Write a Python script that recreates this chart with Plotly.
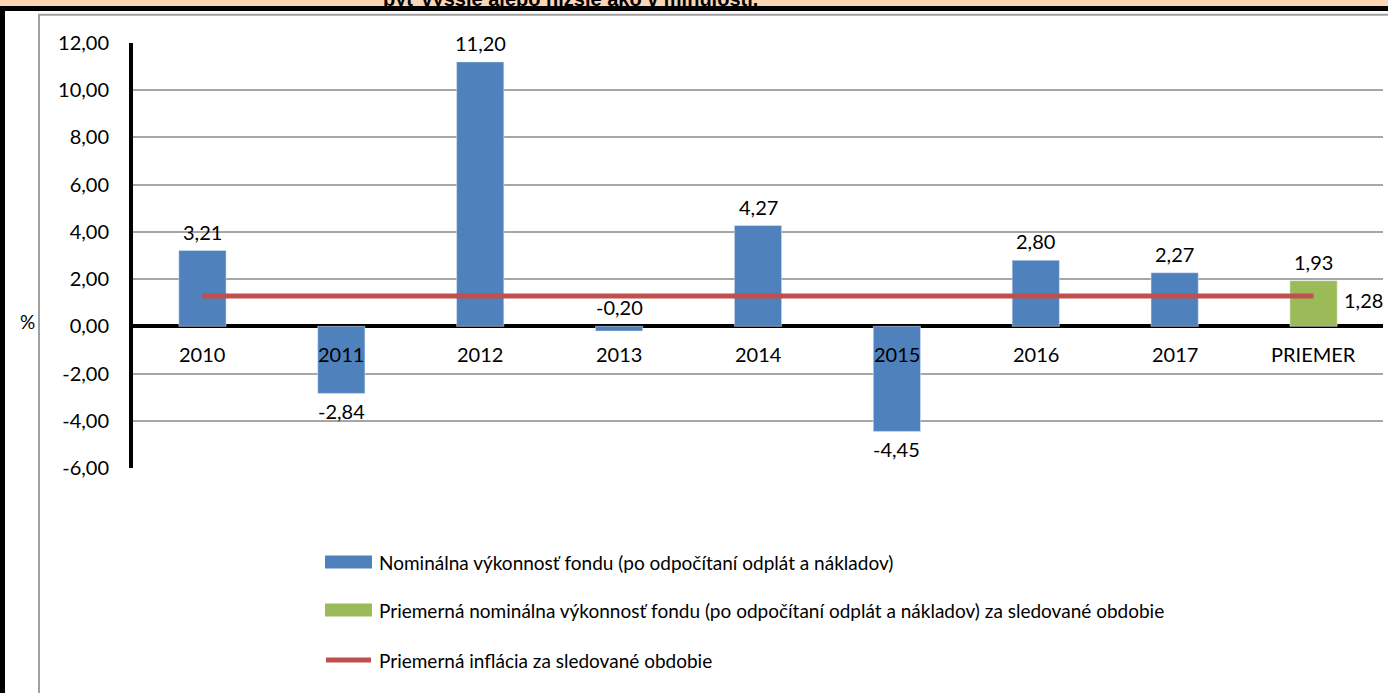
import plotly.graph_objects as go

# ---- data ----
categories = ["2010", "2011", "2012", "2013", "2014", "2015", "2016", "2017", "PRIEMER"]
fund_years = ["2010", "2011", "2012", "2013", "2014", "2015", "2016", "2017"]
fund_values = [3.21, -2.84, 11.20, -0.20, 4.27, -4.45, 2.80, 2.27]
avg_category = ["PRIEMER"]
avg_values = [1.93]
inflation_values = [1.28, 1.28, 1.28, 1.28, 1.28, 1.28, 1.28, 1.28, 1.28]
y_ticks = [-6, -4, -2, 0, 2, 4, 6, 8, 10, 12]
y_tick_labels = ["-6,00", "-4,00", "-2,00", "0,00", "2,00", "4,00", "6,00", "8,00", "10,00", "12,00"]
legend_names = [
    "Nominálna výkonnosť fondu (po odpočítaní odplát a nákladov)",
    "Priemerná nominálna výkonnosť fondu (po odpočítaní odplát a nákladov) za sledované obdobie",
    "Priemerná inflácia za sledované obdobie",
]
title_text = "byť vyššie alebo nižšie ako v minulosti."

BLUE = "#4F81BD"
GREEN = "#9BBB59"
RED = "#C0504D"
FONT = "Lato"

W, H = 1388, 693
L, R, T, B = 133, 5, 43, 225
PW = W - L - R
PH = H - T - B


def px(x):
    return (x - L) / PW


def py(y):
    return (H - B - y) / PH


def fmt(v):
    return f"{v:.2f}".replace(".", ",")


def idx(c):
    return categories.index(c)


fig = go.Figure()
fig.add_trace(go.Bar(x=fund_years, y=fund_values, marker_color=BLUE, width=0.34,
                     name=legend_names[0], showlegend=False))
fig.add_trace(go.Bar(x=avg_category, y=avg_values, marker_color=GREEN, width=0.34,
                     name=legend_names[1], showlegend=False))
fig.add_trace(go.Scatter(x=categories, y=inflation_values, mode="lines",
                         line=dict(color=RED, width=5), name=legend_names[2], showlegend=False))

ann = []
# data labels
for c, v in list(zip(fund_years, fund_values)) + list(zip(avg_category, avg_values)):
    above = v > -1
    ann.append(dict(x=idx(c), y=(v if v > 0 else 0) if above else v, xref="x", yref="y",
                    text=fmt(v), showarrow=False, yanchor="middle",
                    yshift=19 if above else -18,
                    font=dict(family=FONT, size=20, color="black")))
# inflation label
ann.append(dict(x=idx(categories[-1]), y=inflation_values[-1], xref="x", yref="y",
                text=fmt(inflation_values[-1]), showarrow=False, xanchor="left",
                xshift=28, yshift=-4, font=dict(family=FONT, size=20, color="black")))
# category labels next to the zero line
for c in categories:
    ann.append(dict(x=idx(c), y=0, xref="x", yref="y", text=c, showarrow=False,
                    yanchor="middle", yshift=-28,
                    font=dict(family=FONT, size=20, color="black")))
# % unit
ann.append(dict(x=px(18), y=py(335), xref="paper", yref="paper", text="%",
                showarrow=False, font=dict(family=FONT, size=19, color="black")))
# cut-off title at the very top
ann.append(dict(x=px(570), y=py(12), xref="paper", yref="paper", text="<b>" + title_text + "</b>",
                showarrow=False, yanchor="bottom",
                font=dict(family="Liberation Sans", size=20, color="black")))

shapes = []
# peach header strip and borders
shapes.append(dict(type="rect", xref="paper", yref="paper", x0=px(0), x1=px(W), y0=py(0), y1=py(6),
                   fillcolor="#FCD5B4", line=dict(width=0), layer="below"))
shapes.append(dict(type="rect", xref="paper", yref="paper", x0=px(0), x1=px(W), y0=py(6), y1=py(11),
                   fillcolor="black", line=dict(width=0)))
shapes.append(dict(type="rect", xref="paper", yref="paper", x0=px(0), x1=px(5), y0=py(6), y1=py(H),
                   fillcolor="black", line=dict(width=0)))
shapes.append(dict(type="line", xref="paper", yref="paper", x0=px(38), x1=px(W), y0=py(14.8), y1=py(14.8),
                   line=dict(color="#A0A0A0", width=2)))
shapes.append(dict(type="line", xref="paper", yref="paper", x0=px(39), x1=px(39), y0=py(14), y1=py(H),
                   line=dict(color="#A0A0A0", width=2)))

# legend
leg_y = [562, 610, 660]
shapes.append(dict(type="rect", xref="paper", yref="paper", x0=px(325), x1=px(372),
                   y0=py(leg_y[0] - 6.5), y1=py(leg_y[0] + 6.5), fillcolor=BLUE, line=dict(width=0)))
shapes.append(dict(type="rect", xref="paper", yref="paper", x0=px(325), x1=px(372),
                   y0=py(leg_y[1] - 6.5), y1=py(leg_y[1] + 6.5), fillcolor=GREEN, line=dict(width=0)))
shapes.append(dict(type="line", xref="paper", yref="paper", x0=px(326), x1=px(371),
                   y0=py(leg_y[2]), y1=py(leg_y[2]), line=dict(color=RED, width=5)))
for name, yy in zip(legend_names, leg_y):
    ann.append(dict(x=px(377), y=py(yy), xref="paper", yref="paper", text=name, showarrow=False,
                    xanchor="left", yanchor="middle", font=dict(family=FONT, size=19, color="black")))

fig.update_layout(
    width=W, height=H,
    margin=dict(l=L, r=R, t=T, b=B, pad=0),
    paper_bgcolor="white", plot_bgcolor="white",
    barmode="overlay",
    showlegend=False,
    annotations=ann, shapes=shapes,
    font=dict(family=FONT, size=20, color="black"),
    xaxis=dict(type="category", categoryorder="array", categoryarray=categories,
               range=[-0.5, len(categories) - 0.5], showticklabels=False, showgrid=False,
               zeroline=False, showline=False, ticks=""),
    yaxis=dict(range=[-6, 12], tickvals=y_ticks, ticktext=y_tick_labels, showgrid=True,
               gridcolor="#A6A6A6", gridwidth=2, zeroline=True, zerolinecolor="black",
               zerolinewidth=4, showline=True, linecolor="black", linewidth=4,
               ticks="outside", ticklen=16, tickcolor="rgba(0,0,0,0)",
               tickfont=dict(family=FONT, size=20, color="black")),
)

fig.write_html("out.html", config={"displayModeBar": False},
               post_script="document.body.style.margin='0px';")
